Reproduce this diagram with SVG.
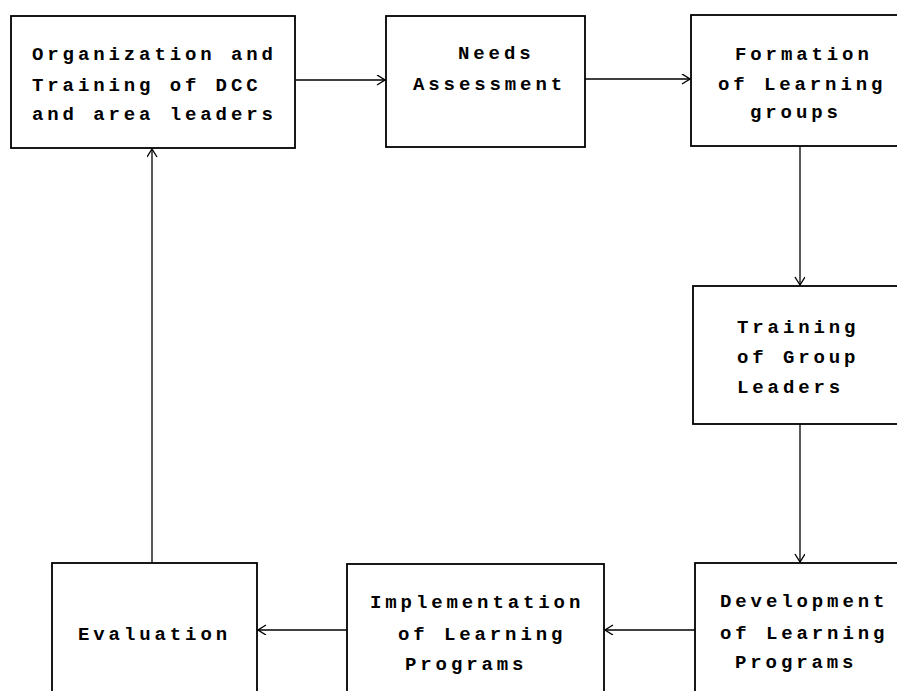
<svg xmlns="http://www.w3.org/2000/svg" width="897" height="691" viewBox="0 0 897 691">
<style>
.box{fill:#fff;stroke:#000;stroke-width:1.8}
.t{font-family:"Liberation Mono",monospace;font-size:19px;font-weight:bold;letter-spacing:3.9px;fill:#000}
.c{fill:none;stroke:#000;stroke-width:1.3}
</style>
<defs>
<marker id="ah" markerWidth="12" markerHeight="12" refX="9" refY="5" orient="auto" markerUnits="userSpaceOnUse">
<path d="M1,0 L9,5 L1,10" fill="none" stroke="#000" stroke-width="1.4"/>
</marker>
</defs>
<rect width="897" height="691" fill="#fff"/>
<g id="connectors">
<line class="c" x1="296" y1="80" x2="385" y2="80" marker-end="url(#ah)"/>
<line class="c" x1="585" y1="79" x2="690" y2="79" marker-end="url(#ah)"/>
<line class="c" x1="800" y1="146" x2="800" y2="285" marker-end="url(#ah)"/>
<line class="c" x1="800" y1="424" x2="800" y2="562" marker-end="url(#ah)"/>
<line class="c" x1="695" y1="630" x2="605" y2="630" marker-end="url(#ah)"/>
<line class="c" x1="347" y1="630" x2="258" y2="630" marker-end="url(#ah)"/>
<line class="c" x1="152" y1="563" x2="152" y2="149" marker-end="url(#ah)"/>
</g>
<g id="n1">
<rect class="box" x="11" y="16" width="284" height="132"/>
<text class="t" x="32" y="60">Organization and</text>
<text class="t" x="32" y="91">Training of DCC</text>
<text class="t" x="32" y="120">and area leaders</text>
</g>
<g id="n2">
<rect class="box" x="386" y="16" width="199" height="131"/>
<text class="t" x="458" y="59">Needs</text>
<text class="t" x="413" y="90">Assessment</text>
</g>
<g id="n3">
<rect class="box" x="691" y="15" width="220" height="131"/>
<text class="t" x="735" y="60">Formation</text>
<text class="t" x="718" y="90">of Learning</text>
<text class="t" x="750" y="118">groups</text>
</g>
<g id="n4">
<rect class="box" x="693" y="286" width="220" height="138"/>
<text class="t" x="737" y="333">Training</text>
<text class="t" x="737" y="363">of Group</text>
<text class="t" x="737" y="393">Leaders</text>
</g>
<g id="n5">
<rect class="box" x="695" y="563" width="220" height="140"/>
<text class="t" x="720" y="607">Development</text>
<text class="t" x="720" y="639">of Learning</text>
<text class="t" x="735" y="668">Programs</text>
</g>
<g id="n6">
<rect class="box" x="347" y="564" width="257" height="140"/>
<text class="t" x="370" y="608">Implementation</text>
<text class="t" x="398" y="640">of Learning</text>
<text class="t" x="405" y="670">Programs</text>
</g>
<g id="n7">
<rect class="box" x="52" y="563" width="205" height="140"/>
<text class="t" x="78" y="640">Evaluation</text>
</g>
</svg>
